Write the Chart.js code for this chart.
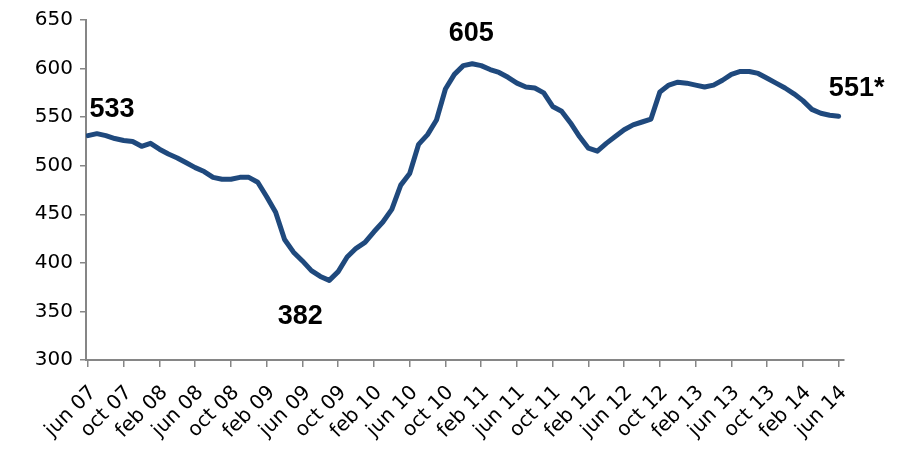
<!DOCTYPE html>
<html>
<head>
<meta charset="utf-8">
<script src="https://cdn.jsdelivr.net/npm/chart.js@4/dist/chart.umd.min.js"></script>
<style>
  html, body { margin: 0; padding: 0; background: #fff; }
  #wrap { width: 899px; height: 451px; position: relative; }
</style>
</head>
<body>
<div id="wrap"><canvas id="c" width="899" height="451"></canvas></div>
<script>
// Monthly values, jun 07 .. jun 14 (85 months)
const values = [
  531,533,531,528,526,525,520,523,517,512,
  508,503,498,494,488,486,486,488,488,483,
  468,452,424,411,402,392,386,382,391,406,
  415,421,432,442,455,480,492,522,532,547,
  579,594,603,605,603,599,596,591,585,581,
  580,575,561,556,544,530,518,515,523,530,
  537,542,545,548,576,583,586,585,583,581,
  583,588,594,597,597,595,590,585,580,574,
  567,558,554,552,551
];
// Tick labels, one every 4 months starting at jun 07
const tickLabels = [
  'jun 07','oct 07','feb 08','jun 08','oct 08','feb 09','jun 09','oct 09',
  'feb 10','jun 10','oct 10','feb 11','jun 11','oct 11','feb 12','jun 12',
  'oct 12','feb 13','jun 13','oct 13','feb 14','jun 14'
];
const tickStep = 4;
// Annotated points (index into values) and their texts
const annotIndex = [1, 27, 43, 84];
const annotText = ['533', '382', '605', '551*'];

// styling / placement of annotations (pixel offsets from the point)
const annotOffsets = [[15, -24], [-29, 36], [-1, -30], [18, -28]];

const annotPlugin = {
  id: 'annot',
  afterDatasetsDraw(chart) {
    const ctx = chart.ctx;
    const xs = chart.scales.x, ys = chart.scales.y;
    ctx.save();
    ctx.font = 'bold 27px "Liberation Sans", Arial, sans-serif';
    ctx.fillStyle = '#000';
    ctx.textAlign = 'center';
    ctx.textBaseline = 'middle';
    annotIndex.forEach((idx, k) => {
      const px = xs.getPixelForValue(idx) + annotOffsets[k][0];
      const py = ys.getPixelForValue(values[idx]) + annotOffsets[k][1];
      ctx.fillText(annotText[k], px, py);
    });
    ctx.restore();
  }
};

const axisGrey = '#868686';
new Chart(document.getElementById('c'), {
  type: 'line',
  data: {
    datasets: [{
      data: values.map((v, i) => ({ x: i, y: v })),
      borderColor: '#1F497D',
      borderWidth: 5,
      pointRadius: 0,
      tension: 0,
      borderJoinStyle: 'round',
      borderCapStyle: 'round',
      fill: false
    }]
  },
  options: {
    responsive: false,
    animation: false,
    layout: { padding: { top: 20, right: 55, left: 0, bottom: 0 } },
    plugins: { legend: { display: false }, tooltip: { enabled: false } },
    scales: {
      x: {
        type: 'linear',
        min: -0.22,
        max: 84.6,
        afterBuildTicks: s => { s.ticks = tickLabels.map((t, i) => ({ value: i * tickStep })); },
        afterFit: s => { s.height = 91; },
        ticks: {
          autoSkip: false,
          minRotation: 45,
          maxRotation: 45,
          padding: 14,
          labelOffset: 5,
          color: '#000',
          font: { family: '"DejaVu Sans", Verdana, sans-serif', size: 20 },
          callback: v => tickLabels[Math.round(v / tickStep)]
        },
        grid: { display: true, drawOnChartArea: false, drawTicks: true, tickLength: 7, color: axisGrey, lineWidth: 1.5 },
        border: { display: true, color: axisGrey, width: 2 }
      },
      y: {
        min: 300,
        max: 650,
        afterFit: s => { s.width = 86; },
        ticks: {
          stepSize: 50,
          padding: 7,
          color: '#000',
          font: { family: '"DejaVu Sans", Verdana, sans-serif', size: 20 }
        },
        grid: { display: true, drawOnChartArea: false, drawTicks: true, tickLength: 6, color: axisGrey, lineWidth: 1.5 },
        border: { display: true, color: axisGrey, width: 2 }
      }
    }
  },
  plugins: [annotPlugin]
});
</script>
</body>
</html>
